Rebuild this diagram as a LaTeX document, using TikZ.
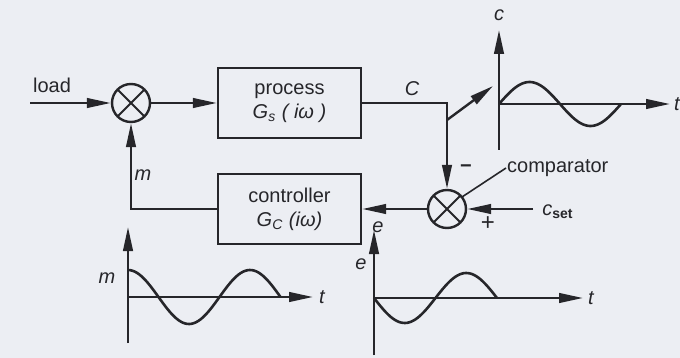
\documentclass[tikz,border=0pt]{standalone}
\usepackage{fontspec}
\setmainfont{Liberation Sans}
\usetikzlibrary{arrows.meta}
\definecolor{bg}{RGB}{236,238,243}
\definecolor{ink}{RGB}{38,38,42}
\begin{document}
\begin{tikzpicture}[x=0.5pt,y=-0.5pt,line width=1.2pt,draw=ink,text=ink,
  sumjunc/.style={circle,draw,minimum size=19pt,inner sep=0pt,
    path picture={\draw[line width=1pt]
      (path picture bounding box.north west) -- (path picture bounding box.south east)
      (path picture bounding box.north east) -- (path picture bounding box.south west);}},
  block/.style={draw,minimum width=71.5pt,minimum height=35pt,align=center,inner sep=2pt},
  arr/.style={-{Triangle[length=12pt,width=4.8pt]}},
  lbl/.style={inner sep=0pt,font=\itshape},
  txt/.style={inner sep=0pt}]
\fill[bg] (0,0) rectangle (680,358);
\useasboundingbox (0,0) rectangle (680,358);

% blocks and junctions
\node[sumjunc] (s1) at (131,103) {};
\node[block] (proc) at (289.5,103) {process\\ \textit{G\textsubscript{s} ( iω )}};
\node[block] (ctrl) at (289.5,209) {controller\\ \textit{G\textsubscript{C} (iω)}};
\node[sumjunc] (cmp) at (447,209) {};

\coordinate (load) at (30,103);
\coordinate (corner) at (447,103);
\coordinate (branch) at (447,120);
\coordinate (branchtip) at (493,86);
\coordinate (cset) at (533,209);
\coordinate (fb) at (131,209);

% connectors
\draw[arr] (load) -- (s1);
\draw[arr] (s1) -- (proc);
\draw[arr] (proc.east) -- (corner) -- (cmp);
\draw[arr] (branch) -- (branchtip);
\draw[arr] (cset) -- (cmp);
\draw[arr] (cmp) -- (ctrl);
\draw[arr] (ctrl.west) -- (fb) -- (s1);

% labels
\node[txt] (lload) at (52,85) {load};
\node[lbl] (lC) at (412,89) {C};
\node[lbl] (lm) at (143,175) {m};
\node[txt] (lminus) at (466,169) {\textbf{−}};
\node[txt,font=\large] (lplus) at (488,224) {+};
\node[lbl] (le) at (378,227) {e};
\node[lbl] (lcset) at (558,212) {c\textsubscript{\upshape\bfseries set}};
\node[txt,anchor=west] (lcomp) at (506,168) {comparator};
\draw[line width=0.8pt] (462,197) -- (lcomp.west);

% c(t) plot
\draw[arr] (499,150) -- (499,30);
\draw[arr] (499,104) -- (670,104);
\node[lbl] (lc) at (499,15) {c};
\node[lbl] (lt1) at (677,104) {t};
\draw[line width=1.3pt] plot[domain=0:360,samples=60] ({499+\x/360*122},{104-22*sin(\x)});

% m(t) plot
\draw[arr] (128,343) -- (128,227);
\draw[arr] (128,297) -- (313,297);
\node[lbl] (lm2) at (107,278) {m};
\node[lbl] (lt2) at (322,297) {t};
\draw[line width=1.3pt] plot[domain=0:450,samples=70] ({128+\x/360*122},{297-27*cos(\x)});

% e(t) plot
\draw[arr] (374,355) -- (374,230);
\draw[arr] (374,298) -- (583,298);
\node[lbl] (le2) at (361,264) {e};
\node[lbl] (lt3) at (591,298) {t};
\draw[line width=1.3pt] plot[domain=0:360,samples=60] ({374+\x/360*123},{298+25*sin(\x)});
\end{tikzpicture}
\end{document}
